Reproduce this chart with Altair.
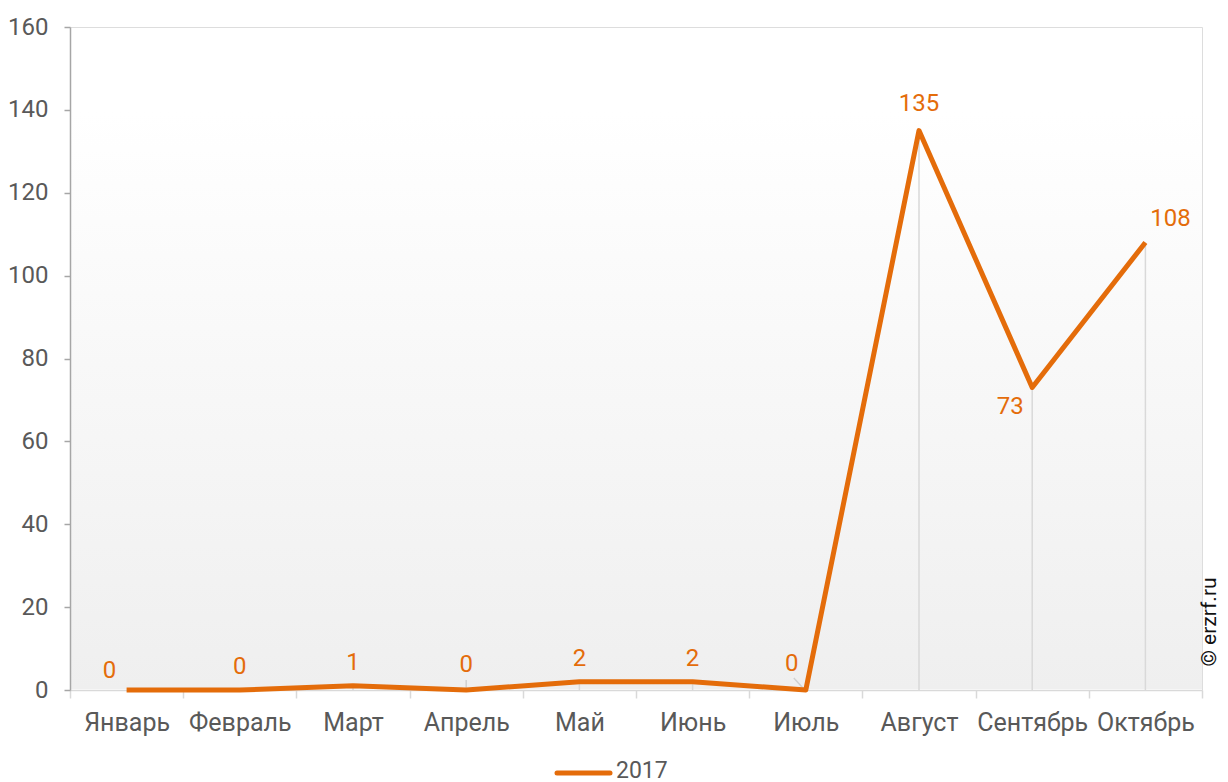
import altair as alt
import pandas as pd

months = ["Январь", "Февраль", "Март", "Апрель", "Май", "Июнь", "Июль",
          "Август", "Сентябрь", "Октябрь"]
values = [0, 0, 1, 0, 2, 2, 0, 135, 73, 108]
series_name = "2017"
y_ticks = [0, 20, 40, 60, 80, 100, 120, 140, 160]

ORANGE = "#E46C0A"
W, H = 1132, 663

df = pd.DataFrame({"month": months, "value": values})

x_enc = alt.X(
    "month:N", sort=months, bandPosition=0.5,
    scale=alt.Scale(type="band", paddingInner=0, paddingOuter=0),
    axis=alt.Axis(title=None, tickBand="extent", labelFontSize=25, labelColor="#595959",
                  domainColor="#d9d9d9", domainWidth=1.5, tickColor="#d9d9d9", tickWidth=1.5,
                  tickSize=8, labelPadding=12, labelAngle=0, grid=False),
)
y_enc = alt.Y(
    "value:Q",
    scale=alt.Scale(domain=[0, 160], nice=False, zero=True),
    axis=alt.Axis(title=None, values=y_ticks, labelFontSize=24, labelColor="#595959",
                  domainColor="#a6a6a6", domainWidth=1.5, tickColor="#a6a6a6", tickWidth=1.5,
                  tickSize=6, labelPadding=16, grid=False, zindex=1),
)

base = alt.Chart(df)

bg = alt.Chart(pd.DataFrame({"a": [0]})).mark_rect(
    color=alt.Gradient(
        gradient="linear",
        stops=[alt.GradientStop(color="#ffffff", offset=0),
               alt.GradientStop(color="#efefef", offset=1)],
        x1=0, x2=0, y1=0, y2=1,
    )
).encode(x=alt.value(1), x2=alt.value(W), y=alt.value(85), y2=alt.value(H - 1))

drops = base.mark_rule(color="#d9d9d9", strokeWidth=1.5).encode(
    x=x_enc, y=y_enc, y2=alt.datum(0)
)

leader_apr = base.transform_filter(alt.datum.month == "Апрель").mark_rule(
    color="#d0d0d0", strokeWidth=1.5, yOffset=-10, y2Offset=-1
).encode(x=x_enc, y=y_enc, y2="value:Q")

leader_jul = base.transform_filter(alt.datum.month == "Июль").mark_rule(
    color="#d0d0d0", strokeWidth=1.5, xOffset=-12, x2Offset=-2, yOffset=-12, y2Offset=-1
).encode(x=x_enc, x2="month:N", y=y_enc, y2="value:Q")

line = base.mark_line(strokeWidth=5, strokeJoin="round", color=ORANGE).encode(
    x=x_enc, y=y_enc,
)

# label placement (pixel offsets from each point)
label_dx = [-17, 0, 0, 0, 0, 0, -14, 0, -22, 25]
label_dy = [-19, -23, -23, -25, -23, -23, -26, -27, 19, -23]

labels = []
for m, dx, dy in zip(months, label_dx, label_dy):
    labels.append(
        base.transform_filter(alt.datum.month == m).mark_text(
            fontSize=24, color=ORANGE, dx=dx, dy=dy, baseline="middle", align="center"
        ).encode(x=x_enc, y=y_enc, text="value:Q")
    )

# legend drawn as marks, centred below the axis
leg_df = pd.DataFrame({"series": [series_name]})
leg_line = alt.Chart(leg_df).mark_rule(color=ORANGE, strokeWidth=5, strokeCap="round").encode(
    x=alt.value(487), x2=alt.value(540), y=alt.value(746)
)
leg_text = alt.Chart(leg_df).mark_text(
    fontSize=23, color="#595959", align="left", baseline="middle"
).encode(x=alt.value(546), y=alt.value(744), text="series:N")

credit = alt.Chart(pd.DataFrame({"t": ["© erzrf.ru"]})).mark_text(
    fontSize=21, color="#111111", angle=270, align="center", baseline="middle"
).encode(x=alt.value(W + 8), y=alt.value(595), text="t:N")

chart = alt.layer(bg, drops, leader_apr, leader_jul, line, *labels,
                  leg_line, leg_text, credit).properties(
    width=W, height=H,
    autosize=alt.AutoSizeParams(type="none"),
    padding={"left": 62, "top": 19, "right": 18, "bottom": 100},
).configure_view(stroke=None).configure(font="Roboto")

chart.save("out.html", embed_options={"renderer": "svg", "actions": False})
